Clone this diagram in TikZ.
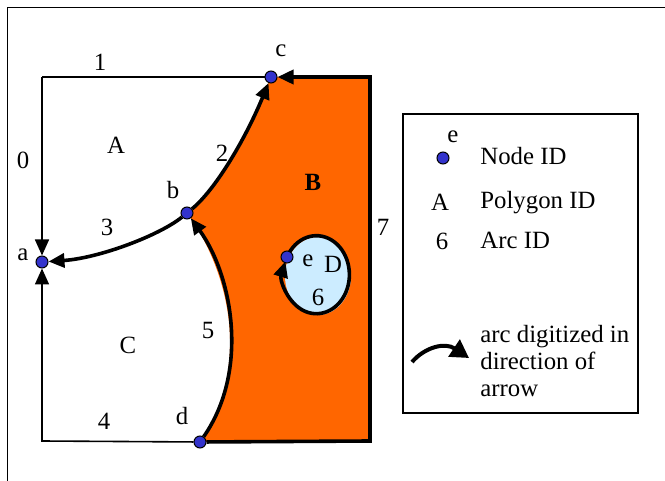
\documentclass[tikz,border=0pt]{standalone}
\usepackage{fontspec}
\setmainfont{Liberation Serif}
\usetikzlibrary{arrows.meta,calc}
\definecolor{polyorange}{RGB}{255,102,0}
\definecolor{holeblue}{RGB}{204,236,255}
\definecolor{nodeblue}{RGB}{51,51,204}
\pgfdeclarelayer{fills}
\pgfdeclarelayer{arcs}
\pgfsetlayers{fills,arcs,main}
\tikzset{
    thinarc/.style={line width=0.8pt, black},
    thickarc/.style={line width=1.8pt, black},
    % arrow head at the end node of an arc
    arctip/.style={-{Triangle[length=8pt, width=7pt]}},
    legendtip/.style={-{Triangle[length=9pt, width=10pt]}},
    nodedot/.style={circle, draw=black, line width=0.5pt, fill=nodeblue,
        minimum size=6pt, inner sep=0pt},
    idlabel/.style={font=\fontsize{12.4}{15}\selectfont, inner sep=0pt}
}

\begin{document}
\begin{tikzpicture}[x=0.5pt, y=-0.5pt]
    \useasboundingbox (0,0) rectangle (665,481);
    \path (42,77) coordinate (tl) (42,441) coordinate (bl)
          (370,441) coordinate (br) (370,77) coordinate (tr)
          (318,276) coordinate (cD);
    \draw[thinarc] (7.5,481) -- (7.5,7.5) -- (665,7.5);

    % nodes
    \node[nodedot] (a) at (42,262) {};
    \node[nodedot] (b) at (187,213) {};
    \node[nodedot] (c) at (271,77) {};
    \node[nodedot] (d) at (200,442) {};
    \node[nodedot] (e) at (287,257) {};

    % polygons B and D
    \begin{pgfonlayer}{fills}
    \fill[polyorange] (d.center) -- (br) -- (tr) -- (c.center)
        .. controls (245,140) and (215,190) .. (b.center)
        .. controls (232,275) and (250,370) .. (d.center) -- cycle;
    \fill[holeblue] (cD) ellipse [x radius=33, y radius=39];
    \end{pgfonlayer}

    % arcs
    \begin{pgfonlayer}{arcs}
    \draw[thinarc] (c) -- (tl);
    \draw[thinarc, arctip] (tl) -- (a);
    \draw[thinarc, arctip] (d) -- (bl) -- (a);
    \draw[thickarc, arctip] (d) -- (br) -- (tr) -- (c);
    \draw[thickarc, arctip] (b) .. controls (215,190) and (245,140) .. (c);
    \draw[thickarc, arctip] (b) .. controls (160,235) and (100,258) .. (a);
    \draw[thickarc, arctip] (d) .. controls (250,370) and (232,275) .. (b);
    \draw[thickarc, arctip] (e.center)
        arc [start angle=207, end angle=560, x radius=33, y radius=39];
    \end{pgfonlayer}

    % node, polygon and arc IDs
    \node[idlabel] (la) at (23,255) {a};
    \node[idlabel] (lb) at (173,190) {b};
    \node[idlabel] (lc) at (281,51) {c};
    \node[idlabel] (ld) at (182,416) {d};
    \node[idlabel] (le) at (308,261) {e};
    \node[idlabel] (pA) at (116,145) {A};
    \node[idlabel] (pB) at (313,182) {\textbf{B}};
    \node[idlabel] (pC) at (128,345) {C};
    \node[idlabel] (pD) at (333,264) {D};
    \node[idlabel] (n0) at (23,160) {0};
    \node[idlabel] (n1) at (100,62) {1};
    \node[idlabel] (n2) at (222,153) {2};
    \node[idlabel] (n3) at (107,227) {3};
    \node[idlabel] (n4) at (104,421) {4};
    \node[idlabel] (n5) at (208,331) {5};
    \node[idlabel] (n6) at (318,297) {6};
    \node[idlabel] (n7) at (383,227) {7};

    % legend
    \draw[thinarc] (403,114) rectangle (638,413);
    \node[nodedot] (ldot) at (443,158) {};
    \node[idlabel] (lde) at (453,137) {e};
    \node[idlabel, anchor=base west] (lnode) at (480,165) {Node ID};
    \node[idlabel] (lpoly) at (440,202) {A};
    \node[idlabel, anchor=base west] (lpolytxt) at (480,209) {Polygon ID};
    \node[idlabel] (larc) at (442,241) {6};
    \node[idlabel, anchor=base west] (larctxt) at (480,249) {Arc ID};
    \coordinate (lgs) at (412,362);
    \coordinate (lge) at (469,358);
    \draw[thickarc, line width=2pt, legendtip] (lgs)
        .. controls (425,347) and (445,342) .. (lge);
    \node[idlabel, anchor=base west] (ltxt1) at (480,343) {arc digitized in};
    \node[idlabel, anchor=base west] (ltxt2) at (480,369) {direction of};
    \node[idlabel, anchor=base west] (ltxt3) at (480,396) {arrow};
\end{tikzpicture}
\end{document}
